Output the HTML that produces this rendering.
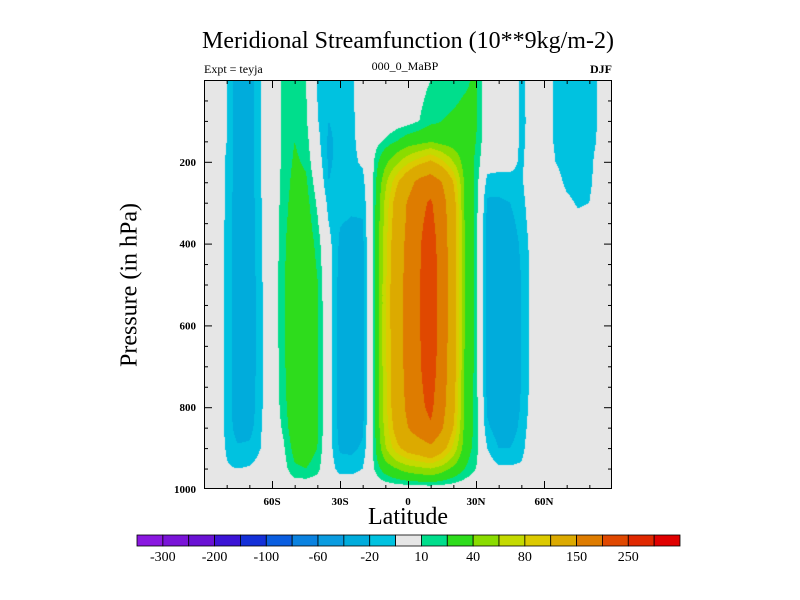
<!DOCTYPE html>
<html><head><meta charset="utf-8">
<style>
body{margin:0;background:#fff;}
#wrap{position:relative;width:800px;height:600px;overflow:hidden;font-family:"Liberation Serif",serif;color:#000;}
.t{position:absolute;white-space:nowrap;}
</style></head>
<body>
<div id="wrap">
<div class="t" style="left:188px;top:28px;width:440px;text-align:center;font-size:24px;">Meridional Streamfunction (10**9kg/m-2)</div>
<div class="t" style="left:204px;top:62px;font-size:12px;">Expt = teyja</div>
<div class="t" style="left:330px;top:59px;width:150px;text-align:center;font-size:12px;">000_0_MaBP</div>
<div class="t" style="left:560px;top:62px;width:52px;text-align:right;font-size:12px;font-weight:bold;">DJF</div>
<div class="t" style="left:130px;top:285px;font-size:24px;transform:translate(-50%,-50%) rotate(-90deg);">Pressure (in hPa)</div>
<div class="t" style="left:308px;top:504px;width:200px;text-align:center;font-size:24px;">Latitude</div>
<canvas id="cv" width="408" height="409" style="position:absolute;left:204px;top:80px;"></canvas>
<svg id="sv" width="800" height="600" style="position:absolute;left:0;top:0;"></svg>
</div>
<script>
const lats=[-90,-85,-80,-75,-70,-65,-60,-55,-50,-45,-40,-35,-30,-25,-20,-15,-10,-5,0,5,10,15,20,25,30,35,40,45,50,55,60,65,70,75,80,85,90];
const pressures=[0,100,150,200,250,300,400,500,600,700,800,850,900,950,1000];
const Z=[0,0,0,0,0,0,0,0,0,0,0,0,0,0,0];
const columns=[
Z,
[-4,-4,-4,-4,-4,-4,-4,-4,-4,-4,-4,-4,-3,-2,0],
[-10,-10,-10,-11,-11,-11,-12,-12,-12,-12,-12,-12,-11,-9,0],
[-28,-28,-28,-28,-28,-29,-30,-30,-30,-30,-29,-27,-18,-10,0],
[-26,-26,-26,-27,-27,-28,-29,-30,-30,-30,-28,-25,-17,-9,0],
[-10,-10,-10,-10,-10,-11,-11,-12,-12,-12,-12,-11,-10,-6,0],
[3,2,0,0,0,0,0,0,0,0,0,0,0,0,0],
[12,12,12,13,14,15,17,18,18,17,15,12,8,5,0],
[15,18,20,22,24,26,30,32,33,33,32,30,25,18,0],
[10,12,15,18,22,25,30,32,33,33,32,32,28,20,0],
[-11,-9,-6,-2,3,8,16,21,22,22,22,22,20,14,0],
[-12,-20,-22,-22,-20,-14,-6,-4,-3,-3,-3,-3,-4,-4,0],
[-14,-17,-17,-16,-15,-17,-22,-25,-26,-26,-26,-25,-22,-14,0],
[-12,-13,-13,-13,-15,-18,-24,-27,-28,-28,-28,-27,-23,-14,0],
[-2,-3,-5,-8,-14,-18,-23,-25,-25,-25,-24,-22,-18,-10,0],
[0,0,5,10,12,13,14,15,15,15,14,14,13,10,0],
[0,0,12,35,55,65,72,75,75,75,72,68,58,28,0],
[0,3,20,55,95,115,125,130,130,128,124,115,92,40,0],
[2,5,28,75,130,155,162,165,165,165,160,150,115,50,0],
[6,10,32,90,165,188,196,198,198,196,190,175,125,55,0],
[10,16,38,105,180,205,222,225,225,222,210,195,140,60,0],
[13,20,32,85,150,170,178,180,180,178,168,155,115,50,0],
[15,22,28,60,100,115,120,122,120,118,110,100,75,35,0],
[18,24,26,30,36,38,40,40,40,38,36,34,30,20,0],
[22,22,20,18,16,15,15,15,15,15,15,15,14,10,0],
[0,0,0,-4,-14,-22,-25,-26,-26,-25,-22,-18,-10,-3,0],
[0,0,0,-5,-15,-22,-28,-30,-30,-30,-28,-26,-20,-8,0],
[0,0,0,-6,-14,-20,-27,-30,-30,-30,-28,-26,-20,-8,0],
[-12,-13,-13,-12,-12,-14,-18,-20,-20,-20,-19,-17,-14,-8,0],
[-5,-5,-4,-2,0,-2,-5,-6,-6,-6,-4,-2,0,0,0],
[-7,-7,-6,-3,0,0,0,0,0,0,0,0,0,0,0],
[-11,-11,-11,-10,-6,-2,0,0,0,0,0,0,0,0,0],
[-15,-15,-15,-14,-12,-8,-3,0,0,0,0,0,0,0,0],
[-15,-15,-15,-14,-13,-11,-4,0,0,0,0,0,0,0,0],
[-14,-14,-13,-12,-12,-10,-4,0,0,0,0,0,0,0,0],
[-8,-8,-8,-6,-4,-2,0,0,0,0,0,0,0,0,0],
Z];
const levels=[-300,-250,-200,-150,-100,-80,-60,-40,-20,-10,10,20,40,60,80,100,150,200,250,300];
const levelLabels=["-300","-200","-100","-60","-20","10","40","80","150","250"];
const colors=["#8a18e0","#7a14d8","#6a12d4","#3c14d6","#1430d8","#0a5ee0","#0a82e0","#0a9ce0","#00acdc","#00c2e0","#e6e6e6","#00de8c","#2edc1c","#8adc00","#c4da00","#dcca00","#dcaa00","#de7c00","#e04800","#e02800","#e00000"];
const yTicks=[200,400,600,800,1000];
const xTicks=[-60,-30,0,30,60];
const xTickLabels=["60S","30S","0","30N","60N"];

const PX=204,PY=80,PW=408,PH=409;
function xs(lat){return PX+(lat+90)/180*PW;}
function ys(p){return PY+p/1000*PH;}
function rgb(h){return [parseInt(h.substr(1,2),16),parseInt(h.substr(3,2),16),parseInt(h.substr(5,2),16)];}
const rgbs=colors.map(rgb);
function findIdx(arr,v){for(let i=0;i<arr.length-1;i++){if(v<=arr[i+1])return i;}return arr.length-2;}
function val(lat,p){
  const i=findIdx(lats,lat), j=findIdx(pressures,p);
  const tx=(lat-lats[i])/(lats[i+1]-lats[i]), ty=(p-pressures[j])/(pressures[j+1]-pressures[j]);
  const a=columns[i][j],b=columns[i+1][j],c=columns[i][j+1],d=columns[i+1][j+1];
  return a*(1-tx)*(1-ty)+b*tx*(1-ty)+c*(1-tx)*ty+d*tx*ty;
}
function level(v){let k=0;while(k<levels.length&&v>=levels[k])k++;return k;}
const cv=document.getElementById('cv');const ctx=cv.getContext('2d');
const img=ctx.createImageData(PW,PH);
for(let y=0;y<PH;y++){for(let x=0;x<PW;x++){
  const lat=-90+(x+0.5)/PW*180, p=(y+0.5)/PH*1000;
  const c=rgbs[level(val(lat,p))];const o=(y*PW+x)*4;
  img.data[o]=c[0];img.data[o+1]=c[1];img.data[o+2]=c[2];img.data[o+3]=255;}}
ctx.putImageData(img,0,0);

const NS="http://www.w3.org/2000/svg";const sv=document.getElementById('sv');
function el(tag,attrs,txt){const e=document.createElementNS(NS,tag);for(const k in attrs)e.setAttribute(k,attrs[k]);if(txt!==undefined)e.textContent=txt;sv.appendChild(e);return e;}
const frame=el('rect',{x:PX+0.5,y:PY+0.5,width:PW-1,height:PH-1,fill:'none',stroke:'#000','stroke-width':1});


for(let p=50;p<1000;p+=50){
  const major=(p%200===0);const L=major?8:4;const y=ys(p)+0.5;
  const t1=el('line',{x1:PX,y1:y,x2:PX+L,y2:y,stroke:'#000'});
  
  
  const t2=el('line',{x1:PX+PW-L,y1:y,x2:PX+PW,y2:y,stroke:'#000'});
  
  
}
for(let lat=-80;lat<=80;lat+=10){
  const major=(lat%30===0);const L=major?8:4;const x=xs(lat)+0.5;
  const t1=el('line',{x1:x,y1:PY+PH,x2:x,y2:PY+PH-L,stroke:'#000'});
  
  
  const t2=el('line',{x1:x,y1:PY,x2:x,y2:PY+L,stroke:'#000'});
  
  
}
yTicks.forEach(p=>{
  const t=el('text',{x:PX-8,y:ys(p)+4,'text-anchor':'end','font-size':11,'font-weight':'bold','font-family':'Liberation Serif, serif'},String(p));
  
  
});
xTicks.forEach((lat,i)=>{
  const t=el('text',{x:xs(lat),y:PY+PH+16,'text-anchor':'middle','font-size':11,'font-weight':'bold','font-family':'Liberation Serif, serif'},xTickLabels[i]);
  
  
});
const CBX=137,CBW=543,CBY=535,CBH=11;const bw=CBW/colors.length;
colors.forEach((c,i)=>{
  const r=el('rect',{x:CBX+i*bw,y:CBY,width:bw,height:CBH,fill:c,stroke:'#000','stroke-width':0.8});
  
  
});
levelLabels.forEach((s,i)=>{
  const t=el('text',{x:CBX+(2*i+1)*bw,y:CBY+26,'text-anchor':'middle','font-size':14,'font-family':'Liberation Serif, serif'},s);
  
  
});
</script>
</body></html>
